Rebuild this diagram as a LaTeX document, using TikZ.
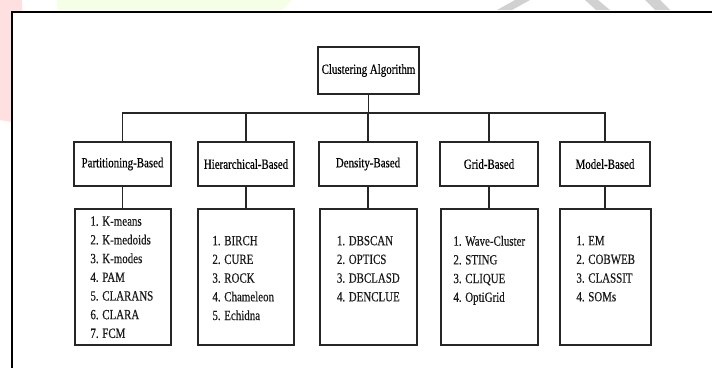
\documentclass[tikz,border=0pt]{standalone}
\usepackage{fontspec}
\newfontfamily\algfont[FakeStretch=0.78, FakeBold=0.4]{Liberation Serif}
\usetikzlibrary{positioning}

\tikzset{
  box/.style={draw=black!85, line width=1.5pt, fill=white, inner sep=0pt},
  rootbox/.style={box, minimum width=101pt, minimum height=47pt, font=\algfont\fontsize{14}{17}\selectfont},
  catbox/.style={box, minimum height=44pt, font=\algfont\fontsize{14}{17}\selectfont},
  listbox/.style={box, minimum height=136pt},
  listtext/.style={anchor=north west, inner sep=0pt, align=left, text=black!90, font=\algfont\fontsize{14}{18.7}\selectfont},
  wire/.style={draw=black!85, line width=1.5pt}
}

\begin{document}
\begin{tikzpicture}[x=1pt, y=-1pt]
  \useasboundingbox (0,0) rectangle (712,367);

  % faint watermark traces behind the frame
  \fill[red!12] (0,0) -- (22,0) -- (22,11) -- (11,11) -- (11,122) -- (0,120) -- cycle;
  \fill[green!40!yellow!10] (57,0) -- (292,0) -- (282,10) -- (57,10) -- cycle;
  \fill[black!18] (497,10) -- (512,10) -- (530,0) -- (515,0) -- cycle;
  \fill[black!18] (585,0) -- (598,0) -- (610,10) -- (596,10) -- cycle;
  \fill[black!18] (645,0) -- (660,0) -- (670,10) -- (655,10) -- cycle;

  % outer frame
  \draw[line width=2pt] (12,372) -- (12,11.5) -- (716,11.5);

  % root
  \node[rootbox] (root) at (368.5,70.5) {Clustering Algorithm};

  % categories
  \node[catbox, minimum width=97pt] (part) at (122.5,164) {Partitioning-Based};
  \node[catbox, minimum width=96pt] (hier) at (246,164) {Hierarchical-Based};
  \node[catbox, minimum width=98pt] (dens) at (368,164) {Density-Based};
  \node[catbox, minimum width=98pt] (grid) at (489,164) {Grid-Based};
  \node[catbox, minimum width=90pt] (model) at (605,164) {Model-Based};

  % algorithm lists
  \node[listbox, minimum width=96pt] (part-l) at (123,277) {};
  \node[listbox, minimum width=96pt] (hier-l) at (246,277) {};
  \node[listbox, minimum width=97pt] (dens-l) at (368.5,277) {};
  \node[listbox, minimum width=97pt] (grid-l) at (489.5,277) {};
  \node[listbox, minimum width=91pt] (model-l) at (605.5,277) {};

  \node[listtext] (part-t) at ([xshift=16pt,yshift=-8pt]part-l.north west)
    {1. K-means\\2. K-medoids\\3. K-modes\\4. PAM\\5. CLARANS\\6. CLARA\\7. FCM};
  \node[listtext] (hier-t) at ([xshift=15pt,yshift=-27.5pt]hier-l.north west)
    {1. BIRCH\\2. CURE\\3. ROCK\\4. Chameleon\\5. Echidna};
  \node[listtext] (dens-t) at ([xshift=17.5pt,yshift=-27.5pt]dens-l.north west)
    {1. DBSCAN\\2. OPTICS\\3. DBCLASD\\4. DENCLUE};
  \node[listtext] (grid-t) at ([xshift=13pt,yshift=-27.5pt]grid-l.north west)
    {1. Wave-Cluster\\2. STING\\3. CLIQUE\\4. OptiGrid};
  \node[listtext] (model-t) at ([xshift=17pt,yshift=-27.5pt]model-l.north west)
    {1. EM\\2. COBWEB\\3. CLASSIT\\4. SOMs};

  % connectors
  \coordinate (bus) at (368,113);
  \draw[wire] (root.south) -- (root.south |- bus);
  \draw[wire] (part.north) |- (bus) -| (model.north);
  \foreach \n in {hier, dens, grid} {
    \draw[wire] (\n.north) -- (\n.north |- bus);
  }
  \foreach \n in {part, hier, dens, grid, model} {
    \draw[wire] (\n.south) -- (\n.south |- \n-l.north);
  }
\end{tikzpicture}
\end{document}
